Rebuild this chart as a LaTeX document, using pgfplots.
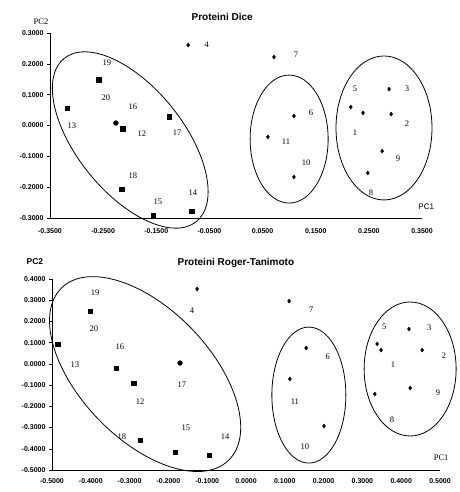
\documentclass[border=0pt]{standalone}
\usepackage{fontspec}
\setmainfont{Liberation Serif}
\setsansfont{Liberation Sans}
\usepackage{pgfplots}
\pgfplotsset{compat=1.18}
\tikzset{ell/.style={line width=0.8pt, black}}
\pgfplotsset{
  pca/.style={
    scale only axis, clip=false,
    axis x line=bottom, axis y line=left,
    axis line style={-, line width=0.7pt, black},
    tick align=outside, major tick length=3pt,
    xtick style={draw=none},
    ytick style={line width=0.5pt, black},
    tick label style={font=\sffamily\bfseries\fontsize{7}{8}\selectfont},
    /pgf/number format/.cd, fixed, fixed zerofill, precision=4, assume math mode=true,
  },
  sq/.style={only marks, mark=square*, mark size=2.2pt, black},
  dm/.style={only marks, mark=diamond*, mark size=2.0pt, black},
  ci/.style={only marks, mark=*, mark size=2.4pt, black},
  lab/.style={draw=none, mark=none, nodes near coords, point meta=explicit symbolic,
    every node near coord/.append style={anchor=center, inner sep=0pt,
      font=\rmfamily\fontsize{8.5}{9}\selectfont}},
}
\begin{document}
\begin{tikzpicture}
% ---------------- Top: Proteini Dice ----------------
\begin{axis}[pca,
  at={(50pt,274pt)}, anchor=south west,
  width=372pt, height=185pt,
  xmin=-0.35, xmax=0.35, ymin=-0.3, ymax=0.3,
  xtick={-0.35,-0.25,-0.15,-0.05,0.05,0.15,0.25,0.35},
  ytick={-0.3,-0.2,-0.1,0,0.1,0.2,0.3},
  xticklabel style={yshift=-4pt},
]
\addplot[sq] coordinates {(-0.258,0.148) (-0.318,0.057) (-0.213,-0.011) (-0.126,0.028)
  (-0.215,-0.206) (-0.156,-0.290) (-0.083,-0.277)};
\addplot[ci] coordinates {(-0.226,0.008)};
\addplot[dm] coordinates {(-0.090,0.261) (0.0715,0.222) (0.109,0.031) (0.060,-0.037)
  (0.109,-0.167) (0.288,0.118) (0.216,0.060) (0.239,0.041) (0.292,0.037)
  (0.275,-0.083) (0.248,-0.154)};
\addplot[lab] table[x=x, y=y, meta=t] {
x y t
-0.055 0.261 4
-0.243 0.203 19
-0.245 0.089 20
-0.194 0.060 16
-0.309 -0.002 13
-0.177 -0.028 12
-0.111 -0.024 17
-0.194 -0.164 18
-0.147 -0.248 15
-0.081 -0.219 14
0.113 0.229 7
0.141 0.041 6
0.094 -0.054 11
0.132 -0.122 10
0.224 0.118 5
0.322 0.118 3
0.322 0.005 2
0.224 -0.024 1
0.305 -0.109 9
0.254 -0.219 8
};
\draw[ell, rotate around={-51:(axis cs:-0.199,-0.047)}] (axis cs:-0.199,-0.047) ellipse [x radius=105pt, y radius=53pt];
\draw[ell] (axis cs:0.100,-0.044) ellipse [x radius=39pt, y radius=64pt];
\draw[ell] (axis cs:0.2785,-0.008) ellipse [x radius=48pt, y radius=72pt];
\node[font=\sffamily\bfseries\fontsize{10}{12}\selectfont] at (axis cs:-0.026,0.352) {Proteini Dice};
\node[font=\rmfamily\fontsize{8.5}{10}\selectfont] at (axis cs:-0.367,0.336) {PC2};
\node[font=\sffamily\fontsize{8}{10}\selectfont] at (axis cs:0.358,-0.264) {PC1};
\end{axis}
% ---------------- Bottom: Proteini Roger-Tanimoto ----------------
\begin{axis}[pca,
  at={(52pt,22pt)}, anchor=south west,
  width=388pt, height=191pt,
  xmin=-0.5, xmax=0.5, ymin=-0.5, ymax=0.4,
  xtick={-0.5,-0.4,-0.3,-0.2,-0.1,0,0.1,0.2,0.3,0.4,0.5},
  ytick={-0.5,-0.4,-0.3,-0.2,-0.1,0,0.1,0.2,0.3,0.4},
  xticklabel style={yshift=-2pt},
]
\addplot[sq] coordinates {(-0.402,0.249) (-0.485,0.094) (-0.335,-0.019) (-0.289,-0.090)
  (-0.273,-0.359) (-0.183,-0.415) (-0.095,-0.429)};
\addplot[ci] coordinates {(-0.170,0.004)};
\addplot[dm] coordinates {(-0.126,0.353) (0.111,0.296) (0.155,0.075) (0.113,-0.071)
  (0.201,-0.293) (0.420,0.164) (0.338,0.094) (0.348,0.065) (0.454,0.065)
  (0.332,-0.142) (0.423,-0.114)};
\addplot[lab] table[x=x, y=y, meta=t] {
x y t
-0.389 0.334 19
-0.392 0.164 20
-0.441 -0.005 13
-0.325 0.080 16
-0.273 -0.180 12
-0.165 -0.099 17
-0.155 -0.302 15
-0.320 -0.344 18
-0.054 -0.344 14
-0.139 0.249 4
0.168 0.254 7
0.211 0.033 6
0.126 -0.180 11
0.152 -0.392 10
0.356 0.174 5
0.472 0.169 3
0.510 0.037 2
0.379 -0.005 1
0.495 -0.137 9
0.376 -0.264 8
};
\draw[ell, rotate around={-46:(axis cs:-0.260,-0.048)}] (axis cs:-0.260,-0.048) ellipse [x radius=120pt, y radius=65pt];
\draw[ell] (axis cs:0.162,-0.147) ellipse [x radius=37pt, y radius=68pt];
\draw[ell] (axis cs:0.423,-0.024) ellipse [x radius=46pt, y radius=67pt];
\node[font=\sffamily\bfseries\fontsize{10}{12}\selectfont] at (axis cs:-0.026,0.475) {Proteini Roger-Tanimoto};
\node[font=\sffamily\bfseries\fontsize{8.5}{10}\selectfont] at (axis cs:-0.544,0.480) {PC2};
\node[font=\rmfamily\fontsize{8.5}{10}\selectfont] at (axis cs:0.503,-0.443) {PC1};
\end{axis}
\pgfresetboundingbox
\useasboundingbox (0,0) rectangle (459pt,492pt);
\end{tikzpicture}
\end{document}
